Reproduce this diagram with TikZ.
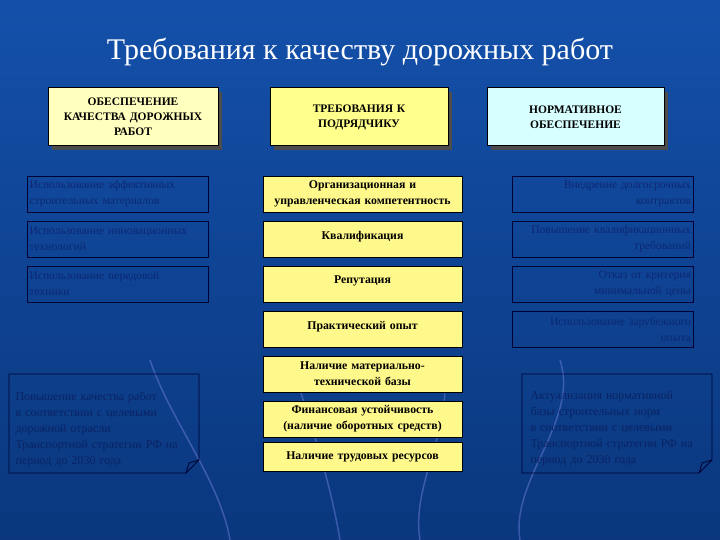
\documentclass[tikz,border=0pt]{standalone}
\usepackage{fontspec}
\setmainfont{Liberation Serif}
\begin{document}
\begin{tikzpicture}[x=1pt,y=-1pt,
  hdr/.style={draw=black,line width=1pt,align=center,font=\bfseries\fontsize{11.5}{15}\selectfont,text=black,inner sep=2pt},
  mid/.style={draw=black,line width=0.6pt,fill=yellow!45,align=center,font=\bfseries\fontsize{11.8}{16}\selectfont,text=black,minimum width=199,minimum height=36,text width=196,inner xsep=1pt},
  side/.style={draw=black!80!blue,line width=0.8pt,minimum width=181,minimum height=36,text width=176,inner xsep=2pt,font=\fontsize{11.6}{16}\selectfont,text={rgb,255:red,12;green,40;blue,115}},
  note/.style={font=\fontsize{12}{16}\selectfont,text={rgb,255:red,10;green,35;blue,100},align=left,text width=185}]
\shade[top color={rgb,255:red,20;green,80;blue,170},bottom color={rgb,255:red,10;green,55;blue,125}] (0,0) rectangle (720,540);
\useasboundingbox (0,0) rectangle (720,540);
\foreach \xa/\xb in {150/230,290/340,440/420,560/520}
  \draw[white!60!blue,opacity=0.35,line width=1.5pt] (\xa,360) .. controls (\xa+20,420) and (\xb-10,480) .. (\xb,540);
\node[text=white,font=\fontsize{30}{34}\selectfont] (title) at (360,52) {Требования к качеству дорожных работ};
\fill[black!70] (52,92) rectangle (222,150);
\fill[black!70] (274,92) rectangle (452,150);
\fill[black!70] (491,92) rectangle (668,150);
\node[hdr,fill={rgb,255:red,255;green,255;blue,190},minimum width=170,minimum height=58,text width=166] (h1) at (133,117) {ОБЕСПЕЧЕНИЕ\\КАЧЕСТВА ДОРОЖНЫХ\\РАБОТ};
\node[hdr,fill={rgb,255:red,255;green,255;blue,140},minimum width=178,minimum height=58,text width=168] (h2) at (359,117) {ТРЕБОВАНИЯ К\\ПОДРЯДЧИКУ};
\node[hdr,fill={rgb,255:red,215;green,255;blue,255},minimum width=177,minimum height=58,text width=167] (h3) at (575.5,117) {НОРМАТИВНОЕ\\ОБЕСПЕЧЕНИЕ};
\node[mid] (m1) at (362.5,194) {Организационная и\\управленческая компетентность};
\node[mid,text depth=8] (m2) at (362.5,239) {Квалификация};
\node[mid,text depth=8] (m3) at (362.5,284) {Репутация};
\node[mid,text depth=8] (m4) at (362.5,329) {Практический опыт};
\node[mid] (m5) at (362.5,374) {Наличие материально-\\технической базы};
\node[mid] (m6) at (362.5,419) {Финансовая устойчивость\\(наличие оборотных средств)};
\node[mid,minimum height=29] (m7) at (362.5,457) {Наличие трудовых ресурсов};
\node[side,align=left] (l1) at (117.5,194) {Использование эффективных\\строительных материалов};
\node[side,align=left] (l2) at (117.5,239) {Использование инновационных\\технологий};
\node[side,align=left] (l3) at (117.5,284) {Использование передовой\\техники};
\node[side,align=right] (r1) at (603,194) {Внедрение долгосрочных\\контрактов};
\node[side,align=right] (r2) at (603,239) {Повышение квалификационных\\требований};
\node[side,align=right] (r3) at (603,284) {Отказ от критерия\\минимальной цены};
\node[side,align=right] (r4) at (603,329) {Использование зарубежного\\опыта};
\draw[black!80!blue,line width=0.8pt] (9,374) -- (199,374) -- (199,460) -- (186,473) -- (9,473) -- cycle;
\draw[black!80!blue,line width=0.8pt] (186,473) -- (189,463) -- (199,460);
\node[note,anchor=north west] (n1) at (12,388) {Повышение качества работ\\в соответствии с целевыми\\дорожной отрасли\\Транспортной стратегии РФ на\\период до 2030 года};
\draw[black!80!blue,line width=0.8pt] (522,374) -- (712,374) -- (712,460) -- (699,473) -- (522,473) -- cycle;
\draw[black!80!blue,line width=0.8pt] (699,473) -- (702,463) -- (712,460);
\node[note,anchor=north west] (n2) at (527,388) {Актуализация нормативной\\базы строительных норм\\в соответствии с целевыми\\Транспортной стратегии РФ на\\период до 2030 года};
\end{tikzpicture}
\end{document}
